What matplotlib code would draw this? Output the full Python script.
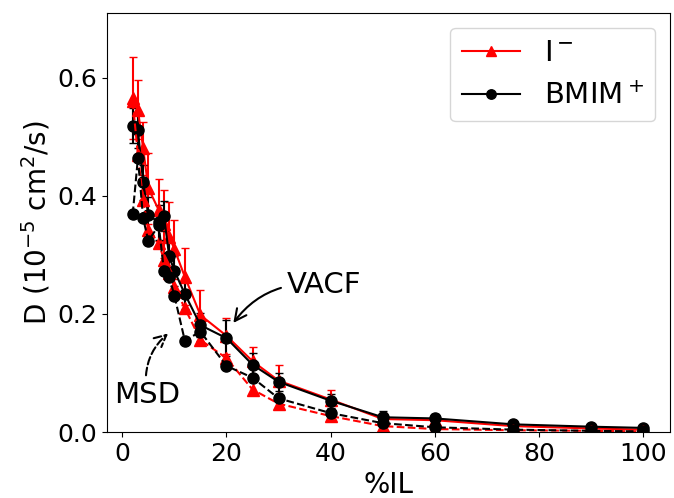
import numpy as np
import matplotlib
matplotlib.use('Agg')
import matplotlib.pyplot as plt

# %IL composition
x = [2, 3, 4, 5, 7, 8, 9, 10, 12, 15, 20, 25, 30, 40, 50, 60, 75, 90, 100]

# I- diffusion (VACF, solid) with errors
i_vacf = [0.566, 0.546, 0.481, 0.413, 0.376, 0.352, 0.331, 0.310, 0.263, 0.198, 0.163, 0.120, 0.087, 0.055, 0.022, 0.020, 0.010, 0.006, 0.004]
i_vacf_err = [0.070, 0.050, 0.045, 0.060, 0.053, 0.058, 0.058, 0.050, 0.048, 0.043, 0.030, 0.024, 0.027, 0.016, 0.010, 0.008, 0.005, 0.004, 0.004]
# I- diffusion (MSD, dashed)
i_msd = [0.560, 0.470, 0.393, 0.342, 0.321, 0.291, 0.270, 0.245, 0.210, 0.156, 0.125, 0.072, 0.048, 0.027, 0.010, 0.005, 0.003, 0.002, 0.001]

# BMIM+ diffusion (VACF, solid) with errors
b_vacf = [0.519, 0.512, 0.423, 0.368, 0.355, 0.366, 0.298, 0.273, 0.234, 0.181, 0.159, 0.114, 0.085, 0.053, 0.025, 0.023, 0.013, 0.009, 0.007]
b_vacf_err = [0.030, 0.030, 0.030, 0.030, 0.030, 0.025, 0.025, 0.025, 0.025, 0.020, 0.030, 0.020, 0.015, 0.012, 0.010, 0.008, 0.006, 0.004, 0.004]
# BMIM+ diffusion (MSD, dashed)
b_msd = [0.369, 0.464, 0.362, 0.324, 0.350, 0.273, 0.263, 0.231, 0.155, 0.170, 0.112, 0.092, 0.057, 0.032, 0.015, 0.008, 0.004, 0.002, 0.001]

plt.rcParams['font.size'] = 18

fig = plt.figure(figsize=(6.74, 4.98), dpi=100)
ax = fig.add_subplot(111)
fig.subplots_adjust(left=0.159, right=0.994, top=0.974, bottom=0.1325)

# error bars only
ax.errorbar(x, i_vacf, yerr=i_vacf_err, fmt='none', ecolor='red', elinewidth=1.5, capsize=3)
ax.errorbar(x, b_vacf, yerr=b_vacf_err, fmt='none', ecolor='black', elinewidth=1.5, capsize=3)

ax.plot(x, i_vacf, color='red', marker='^', markersize=8, lw=1.5, label='I$^-$')
ax.plot(x, b_vacf, color='black', marker='o', markersize=8, lw=1.5, label='BMIM$^+$')
ax.plot(x, i_msd, color='red', marker='^', markersize=8, lw=1.5, linestyle='--')
ax.plot(x, b_msd, color='black', marker='o', markersize=8, lw=1.5, linestyle='--')

ax.annotate('VACF', xy=(21.0, 0.181), xytext=(31.5, 0.249), va='center', ha='left', fontsize=21,
            arrowprops=dict(arrowstyle='->', color='black', lw=1.5,
                            connectionstyle='arc3,rad=0.3'))
ax.annotate('MSD', xy=(9.2, 0.170), xytext=(4.8, 0.063), va='center', ha='center', fontsize=21,
            arrowprops=dict(arrowstyle='->', color='black', lw=1.5, linestyle='--',
                            connectionstyle='arc3,rad=-0.3'))

ax.set_ylim(0, 0.710)
ax.set_xlim(-2.9, 105.1)
ax.set_xticks([0, 20, 40, 60, 80, 100])
ax.set_yticks([0.0, 0.2, 0.4, 0.6])
ax.set_xlabel('%IL', fontsize=20)
ax.set_ylabel('D (10$^{-5}$ cm$^2$/s)', fontsize=20)
ax.legend(loc='upper right', fontsize=21, markerscale=0.85)

fig.savefig('out.png', dpi=100)
